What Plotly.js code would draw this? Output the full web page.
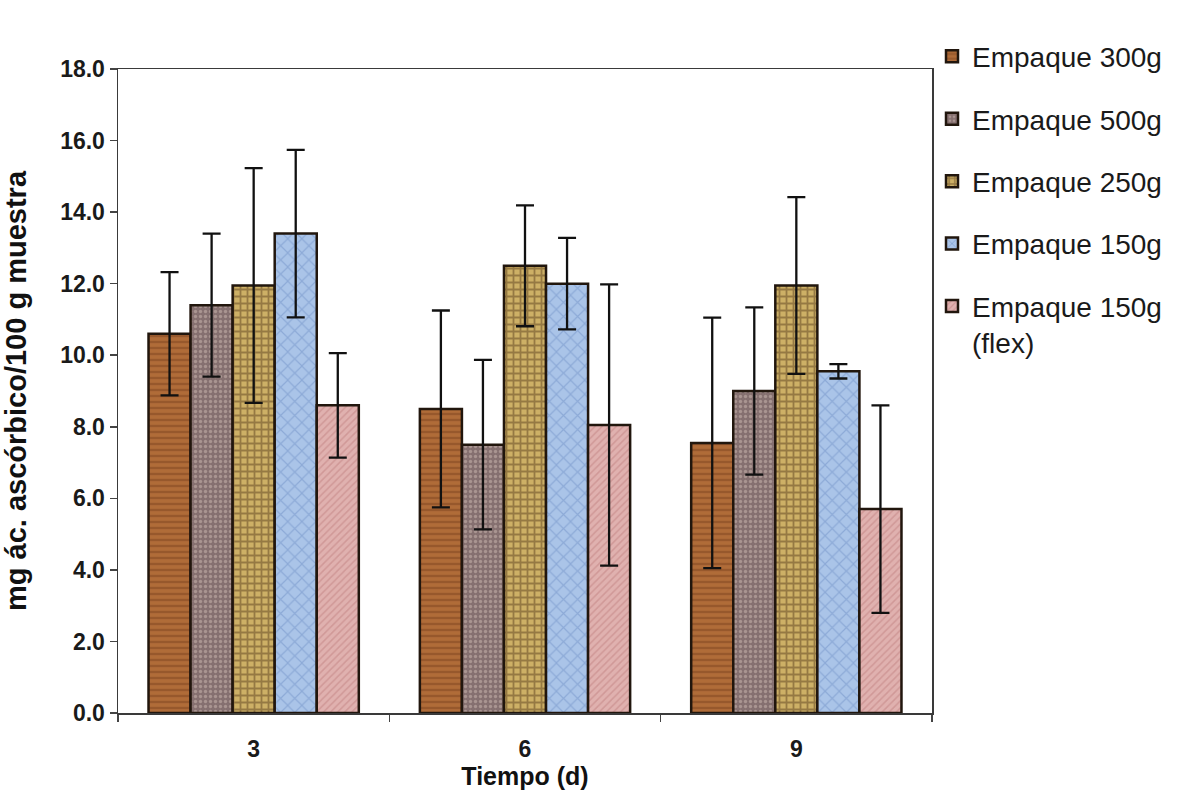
<!DOCTYPE html>
<html>
<head>
<meta charset="utf-8">
<script src="https://cdn.plot.ly/plotly-3.0.1.min.js"></script>
<style>
  html, body { margin: 0; padding: 0; background: #ffffff; }
  #chart { width: 1181px; height: 791px; }
</style>
</head>
<body>
<div id="chart"></div>
<script>
// Categories (storage time, days)
const categories = ['3', '6', '9'];

// Series names
const seriesNames = ['Empaque 300g', 'Empaque 500g', 'Empaque 250g', 'Empaque 150g', 'Empaque 150g<br>(flex)'];

// Mean values (mg ác. ascórbico / 100 g muestra)
const e300  = [10.6, 8.5, 7.55];
const e500  = [11.4, 7.5, 9.0];
const e250  = [11.95, 12.5, 11.95];
const e150  = [13.4, 12.0, 9.55];
const e150f = [8.6, 8.05, 5.7];

// Error bar half-lengths
const err300  = [1.72, 2.75, 3.5];
const err500  = [2.0, 2.37, 2.34];
const err250  = [3.28, 1.69, 2.47];
const err150  = [2.34, 1.28, 0.2];
const err150f = [1.46, 3.93, 2.9];

// Y tick values
const yTicks = [0, 2, 4, 6, 8, 10, 12, 14, 16, 18];

const values = [e300, e500, e250, e150, e150f];
const errors = [err300, err500, err250, err150, err150f];

const styles = [
  { bg: '#b06c38', fg: '#7e4420', shape: '-', size: 6, solidity: 0.4 },
  { bg: '#857070', fg: '#cdbab2', shape: '.', size: 5, solidity: 0.35 },
  { bg: '#cdb066', fg: '#5e4220', shape: '+', size: 7, solidity: 0.45 },
  { bg: '#aac4e8', fg: '#6f90c6', shape: 'x', size: 10, solidity: 0.22 },
  { bg: '#e0b1af', fg: '#c0807f', shape: '/', size: 5, solidity: 0.3 }
];

const traces = seriesNames.map((name, i) => ({
  type: 'bar',
  name: name,
  legendgroup: 'g' + i,
  x: categories,
  y: values[i],
  marker: {
    color: styles[i].bg,
    line: { color: '#21160d', width: 2.5 },
    pattern: {
      shape: styles[i].shape,
      bgcolor: styles[i].bg,
      fgcolor: styles[i].fg,
      size: styles[i].size,
      solidity: styles[i].solidity,
      fillmode: 'overlay'
    }
  },
  error_y: {
    type: 'data',
    array: errors[i],
    visible: true,
    color: '#111111',
    thickness: 2.3,
    width: 9
  },
  hoverinfo: 'skip'
}));

const FONT = 'Liberation Sans, Arial, sans-serif';

const layout = {
  width: 1181,
  height: 791,
  margin: { l: 118, r: 249, t: 69, b: 78 },
  paper_bgcolor: '#ffffff',
  plot_bgcolor: '#ffffff',
  barmode: 'group',
  bargap: 0.225,
  bargroupgap: 0,
  showlegend: true,
  font: { family: FONT, color: '#1a1a1a' },
  xaxis: {
    type: 'category',
    categoryorder: 'array',
    categoryarray: categories,
    tickson: 'boundaries',
    ticks: 'outside',
    ticklen: 7,
    tickwidth: 1.5,
    tickcolor: '#444',
    showline: true,
    linecolor: '#3a3a3a',
    linewidth: 1.5,
    mirror: true,
    showgrid: false,
    zeroline: false,
    ticklabelstandoff: 15,
    tickfont: { size: 23, family: FONT, color: '#1a1a1a', weight: 'bold' },
    title: {
      text: '<b>Tiempo (d)</b>',
      font: { size: 25, family: FONT, color: '#111' },
      standoff: 1
    }
  },
  yaxis: {
    range: [0, 18],
    tickmode: 'array',
    tickvals: yTicks,
    tickformat: '.1f',
    ticks: 'outside',
    ticklen: 7,
    tickwidth: 1.5,
    tickcolor: '#444',
    showline: true,
    linecolor: '#3a3a3a',
    linewidth: 1.5,
    mirror: true,
    showgrid: false,
    zeroline: false,
    tickfont: { size: 23, family: FONT, color: '#1a1a1a', weight: 'bold' },
    title: {
      text: '<b>mg ác. ascórbico/100 g muestra</b>',
      font: { size: 29, family: FONT, color: '#111' },
      standoff: 26
    }
  },
  legend: {
    x: 1.0,
    xanchor: 'left',
    y: 1.058,
    yanchor: 'top',
    valign: 'top',
    traceorder: 'grouped',
    tracegroupgap: 23,
    itemwidth: 30,
    bgcolor: 'rgba(0,0,0,0)',
    font: { size: 28, family: FONT, color: '#1a1a1a' }
  }
};

Plotly.newPlot('chart', traces, layout, { staticPlot: true, displayModeBar: false });
</script>
</body>
</html>
